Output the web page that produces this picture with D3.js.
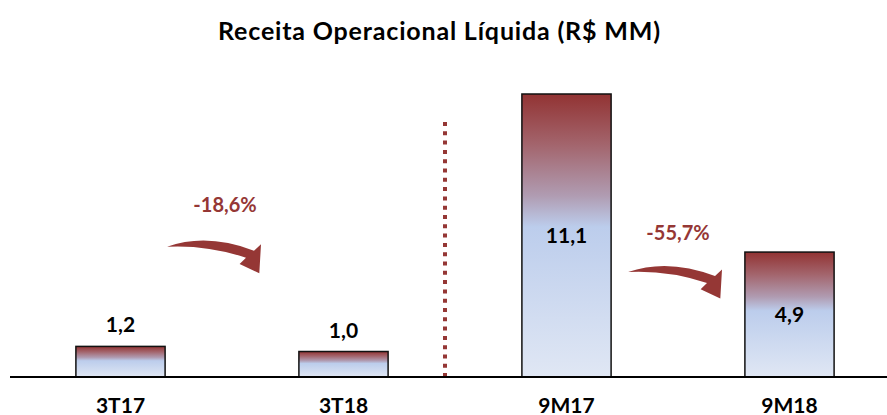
<!DOCTYPE html>
<html>
<head>
<meta charset="utf-8">
<script src="https://cdn.jsdelivr.net/npm/d3@7"></script>
<style>
  body { margin: 0; background: #fff; }
  text { font-family: Lato, "Open Sans", sans-serif; font-weight: bold; }
</style>
</head>
<body>
<svg width="887" height="415"></svg>
<script>
var categories = ["3T17", "3T18", "9M17", "9M18"];
var values = [1.2, 1.0, 11.1, 4.9];
var valueLabels = ["1,2", "1,0", "11,1", "4,9"];
var changeFrom = ["3T17", "9M17"];
var changeTo = ["3T18", "9M18"];
var changeLabels = ["-18,6%", "-55,7%"];

var red = "#953735";

var svg = d3.select("svg"),
    width = +svg.attr("width"),
    height = +svg.attr("height");

var x = d3.scaleBand()
    .domain(categories)
    .range([9, 901])
    .paddingInner(0.6)
    .paddingOuter(0.3);

var y = d3.scaleLinear()
    .domain([0, 11.1])
    .range([377, 94]);

// gradient for the bars
var grad = svg.append("defs").append("linearGradient")
    .attr("id", "barGrad")
    .attr("x1", 0).attr("y1", 0).attr("x2", 0).attr("y2", 1);
grad.selectAll("stop")
    .data([[0, "#923333"], [0.18, "#a3656d"], [0.36, "#b09cb2"], [0.47, "#bccdec"], [1, "#e0e7f4"]])
    .enter().append("stop")
    .attr("offset", function(d) { return d[0]; })
    .attr("stop-color", function(d) { return d[1]; });

// title
svg.append("text")
    .attr("x", 439)
    .attr("y", 40)
    .attr("text-anchor", "middle")
    .attr("font-size", "25px")
    .attr("textLength", 442)
    .attr("lengthAdjust", "spacing")
    .attr("fill", "#000")
    .text("Receita Operacional Líquida (R$ MM)");

// bars
svg.selectAll(".bar")
    .data(values)
    .enter().append("rect")
    .attr("class", "bar")
    .attr("x", function(d, i) { return x(categories[i]); })
    .attr("y", function(d) { return y(d); })
    .attr("width", x.bandwidth())
    .attr("height", function(d) { return y(0) - y(d); })
    .attr("fill", "url(#barGrad)")
    .attr("stroke", "#111")
    .attr("stroke-width", 1.5);

// value labels: inside tall bars, above short ones
svg.selectAll(".val")
    .data(values)
    .enter().append("text")
    .attr("class", "val")
    .attr("x", function(d, i) { return x(categories[i]) + x.bandwidth() / 2; })
    .attr("y", function(d) {
        if (d > 3) return (y(d) + y(0)) / 2 + 7;
        return y(d) - 14;
    })
    .attr("text-anchor", "middle")
    .attr("font-size", "21px")
    .attr("fill", "#000")
    .text(function(d, i) { return valueLabels[i]; });

// baseline
svg.append("line")
    .attr("x1", 10).attr("x2", width)
    .attr("y1", y(0)).attr("y2", y(0))
    .attr("stroke", "#000")
    .attr("stroke-width", 2);

// category labels
svg.selectAll(".cat")
    .data(categories)
    .enter().append("text")
    .attr("class", "cat")
    .attr("x", function(d) { return x(d) + x.bandwidth() / 2; })
    .attr("y", 413)
    .attr("text-anchor", "middle")
    .attr("font-size", "21px")
    .attr("fill", "#000")
    .text(function(d) { return d; });

// dotted separator between quarter and nine-month groups
var sepX = (x("3T18") + x.bandwidth() + x("9M17")) / 2 - 10;
svg.append("line")
    .attr("x1", sepX).attr("x2", sepX)
    .attr("y1", 122).attr("y2", y(0) - 1)
    .attr("stroke", red)
    .attr("stroke-width", 4)
    .attr("stroke-dasharray", "4,5.3");

// curved arrows + percent change
var arrowShape = "M0,0 Q40,-14 87,4 L94,-2.4 L92.3,26.6 L72.6,17.3 L79,11 Q40,-2 0,0 Z";
var arrowPos = [[-65, 246.7, 225, 212], [-50, 272, 678, 240]];

changeLabels.forEach(function(lbl, i) {
    var mid = (x(changeFrom[i]) + x(changeTo[i]) + x.bandwidth()) / 2;
    var p = arrowPos[i];
    svg.append("path")
        .attr("d", arrowShape)
        .attr("transform", "translate(" + (mid + p[0]) + "," + p[1] + ")")
        .attr("fill", red);
    svg.append("text")
        .attr("x", p[2])
        .attr("y", p[3])
        .attr("text-anchor", "middle")
        .attr("font-size", "20px")
        .attr("fill", red)
        .text(lbl);
});
</script>
</body>
</html>
